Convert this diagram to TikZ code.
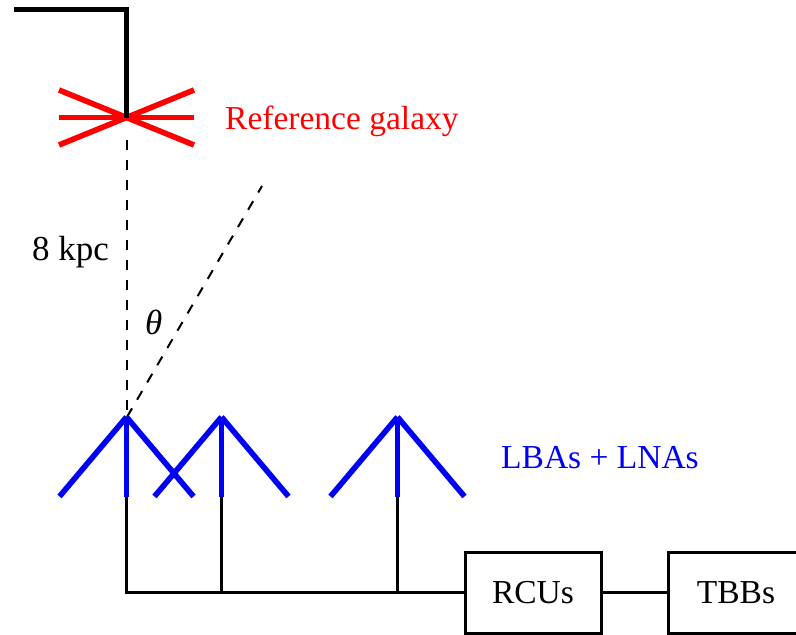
\documentclass[tikz,border=0pt]{standalone}
\usepackage{fontspec}
\setmainfont{Liberation Serif}
\usepackage{xcolor}
\usetikzlibrary{positioning}
\definecolor{antblue}{RGB}{0,0,245}
\definecolor{galred}{RGB}{255,0,0}
\tikzset{
  boxnode/.style={draw,line width=3pt,minimum width=136pt,minimum height=81pt,inner sep=0pt,text height=22pt,text depth=0pt,font=\fontsize{33.5}{38}\selectfont},
  wire/.style={line width=3pt},
  antenna/.style={antblue,line width=5.6pt},
  galaxyline/.style={galred,line width=5.6pt},
  sightline/.style={line width=2pt,dash pattern=on 10pt off 10pt},
  lbl/.style={inner sep=0pt,font=\fontsize{33.5}{38}\selectfont}
}
\begin{document}
\begin{tikzpicture}[x=1pt,y=-1pt]
  \useasboundingbox (0,0) rectangle (796,635);

  % Galaxy
  \coordinate (gal) at (126.5,117.5);
  \coordinate (corner) at (126.5,9.5);
  \coordinate (start) at (14,9.5);
  \coordinate (galfoot) at (127,140);
  \coordinate (galNW) at (59,90);
  \coordinate (galW) at (59,117.5);
  \coordinate (galSW) at (59,145);
  \coordinate (galNE) at (194,90);
  \coordinate (galE) at (194,117.5);
  \coordinate (galSE) at (194,145);
  \foreach \tip in {galNW,galW,galSW,galNE,galE,galSE}
    \draw[galaxyline] (gal) -- (\tip);
  \draw[line width=5pt] (start) -- (corner) -- (gal);
  \node[lbl,text=galred,anchor=base west] (galname) at (225,129) {Reference galaxy};

  % Sight lines
  \coordinate (ant1top) at (127,417);
  \coordinate (far) at (262,186);
  \draw[sightline] (galfoot) -- (ant1top);
  \draw[sightline] (ant1top) -- (far);
  \node[lbl,anchor=base west,font=\fontsize{35}{40}\selectfont] (dist) at (32,260) {8 kpc};
  \node[lbl,anchor=base west,font=\fontsize{35}{40}\selectfont\itshape] (angle) at (145,334) {θ};

  % Antennas
  \foreach \name/\x in {ant1/126.5,ant2/221.5,ant3/397.5} {
    \coordinate (\name top) at (\x,417);
    \coordinate (\name foot) at (\x,497);
    \coordinate (\name base) at (\x,592.5);
    \draw[antenna] (\x-67,496.5) -- (\name top);
    \draw[antenna] (\x+67,496.5) -- (\name top);
    \draw[antenna] (\name top) -- (\name foot);
  }
  \node[lbl,text=antblue,anchor=base west] (lbas) at (501,468) {LBAs + LNAs};

  % Back end
  \node[boxnode] (rcu) at (533,592.5) {RCUs};
  \node[boxnode] (tbb) at (736,592.5) {TBBs};
  \draw[wire] (ant1foot) -- (ant1base) -- (rcu);
  \draw[wire] (ant2foot) -- (ant2base);
  \draw[wire] (ant3foot) -- (ant3base);
  \draw[wire] (rcu) -- (tbb);
\end{tikzpicture}
\end{document}
